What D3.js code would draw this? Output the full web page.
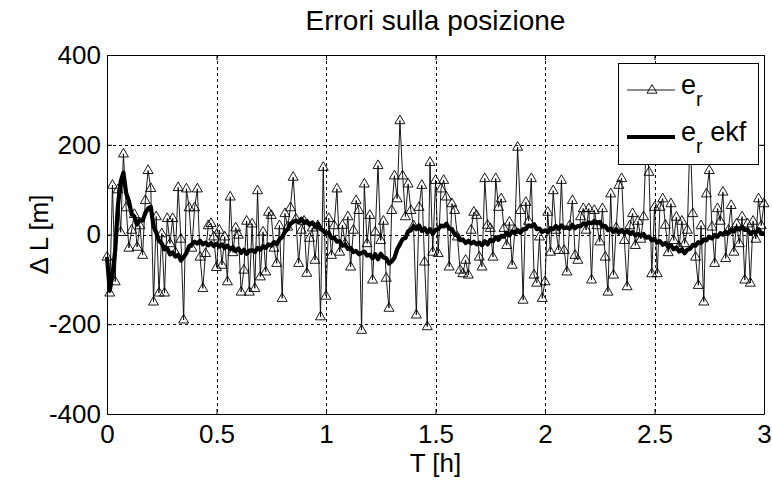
<!DOCTYPE html>
<html>
<head>
<meta charset="utf-8">
<script src="https://cdn.jsdelivr.net/npm/d3@7"></script>
<style>
  html, body { margin: 0; padding: 0; background: #fff; }
  svg { display: block; font-family: "Liberation Sans", Arial, Helvetica, sans-serif; }
</style>
</head>
<body>
<svg id="chart" width="772" height="480"></svg>
<script>
// Sampling grid: one sample every 0.0125 h over 3 hours
const sampleStep = 0.0125;

// Raw position error e_r [m]
const errRaw = [
  -50, -130, 110, -105, 100, 5, 180, 60, -30, 10, 45, -28, 20, -46, 76, 143,
  103, -150, 40, -130, 2, -130, 36, -20, 36, -40, 105, -10, -190, 102, 60, -30,
  60, 102, -50, -120, -42, 20, 25, -5, -73,
  10, -68, -5, -105, 84, -40, 15, -1, -128, -79, 30, -128, 24, -120, 98, -94,
  6, -83, 50, 43, -30, -64, 20, -142, 47, 17, 60, 128, 35, -64, 10, 30,
  -86, -8, 15, -57, 20, -183, 150, -137,
  36, -46, 20, 102, -39, 21, -20, 40, -72, 10, 76, 54, -213, 113, -20, 43,
  -101, 6, 154, -13, 30, -97, -164, 54, 131, 80, 254, 131, 40, 113, 54, 20,
  -179, 61, 110, -61, -205, 161, -39, 121,
  -42, 102, 121, 84, -72, 69, 54, -5, -79, -87, -57, -90, 10, 50, 43, -50,
  -72, 125, 21, 14, -50, 125, 61, 80, 14, -24, 28, -68, 10, 195, 54, -146,
  72, 30, 125, -90, -108, -5, -142, -105,
  50, -39, 98, 10, -35, 121, -35, -83, 20, 76, -46, -57, 40, 58, 10, 58,
  -101, 54, 20, -16, 58, -50, -128, 91, -90, 15, 110, 125, -13, -116, 20, 47,
  -24, 30, -10, 40, 210, 139, -87, 61,
  -87, 61, 80, 21, -40, 69, -13, 39, -27, 30, -20, 10, 230, 47, -50, -113,
  20, -150, 91, 143, 17, -64, 58, 30, 95, -53, 10, 65, -39, 24, -20, 40,
  -101, 24, -108, 30, -10, 80, 20, 69
];

// EKF-filtered position error e_r ekf [m]
const errEkf = [
  -50, -125, -90, -35, 65, 118, 138, 92, 74, 46, 40, 22, 33, 31, 48, 58,
  62, 18, 4, -14, -20, -33, -31, -44, -40, -49, -45, -58, -50, -42, -26, -22,
  -16, -20, -14, -22, -18, -24, -19, -26, -21,
  -27, -22, -30, -25, -33, -28, -37, -31, -41, -34, -43, -36, -35, -39, -30, -34,
  -26, -30, -22, -25, -17, -21, -11, -6, 6, 12, 24, 28, 31, 27, 35, 26,
  30, 22, 27, 18, 24, 12, 9, 2,
  4, -8, -7, -16, -15, -25, -22, -32, -30, -39, -37, -44, -41, -38, -47, -45,
  -53, -44, -55, -43, -51, -53, -65, -60, -52, -33, -22, -10, -8, 7, 9, 19,
  12, 20, 8, 14, 4, 12, 2, 10,
  12, 20, 18, 24, 13, 12, 0, -2, -13, -11, -19, -14, -20, -16, -22, -18,
  -24, -15, -22, -12, -15, -6, -12, -3, -5, 4, -2, 7, 3, 10, 4, 12,
  12, 20, 18, 23, 12, 13, 6, 9,
  5, 14, 12, 19, 12, 20, 14, 16, 13, 21, 14, 19, 18, 25, 22, 27,
  25, 30, 25, 28, 18, 19, 10, 13, 6, 12, 4, 10, 3, 8, 2, 5,
  -2, 1, -3, 1, -7, -5, -13, -10,
  -18, -15, -23, -19, -28, -24, -33, -29, -38, -33, -42, -34, -32, -23, -25, -17,
  -19, -11, -13, -5, -9, -1, -5, 3, 0, 6, 2, 11, 7, 15, 11, 17,
  10, 11, 2, 6, 3, 12, 2, 3
];

const xTicks = [0, 0.5, 1, 1.5, 2, 2.5, 3];
const yTicks = [-400, -200, 0, 200, 400];

const titleText = "Errori sulla posizione";
const xLabelText = "T [h]";
const yLabelText = "\u0394 L [m]";

const seriesRaw = errRaw.map((v, i) => ({ t: i * sampleStep, v }));
const seriesEkf = errEkf.map((v, i) => ({ t: i * sampleStep, v }));

const svg = d3.select("#chart");
const margin = { left: 107, right: 8, top: 55, bottom: 66 };
const W = 772, H = 480;
const plotW = W - margin.left - margin.right;
const plotH = H - margin.top - margin.bottom;

const x = d3.scaleLinear().domain([0, 3]).range([margin.left, margin.left + plotW]);
const y = d3.scaleLinear().domain([-400, 400]).range([margin.top + plotH, margin.top]);

const fontSize = 26;
const fmt = d => String(d);

// dotted grid on interior ticks
const grid = svg.append("g").attr("stroke", "#000").attr("stroke-width", 1)
  .attr("stroke-dasharray", "3,3");
grid.selectAll(".gx").data(xTicks.slice(1, -1)).join("line")
  .attr("x1", d => Math.round(x(d)) + 0.5).attr("x2", d => Math.round(x(d)) + 0.5)
  .attr("y1", y(400)).attr("y2", y(-400));
grid.selectAll(".gy").data(yTicks.slice(1, -1)).join("line")
  .attr("y1", d => Math.round(y(d)) + 0.5).attr("y2", d => Math.round(y(d)) + 0.5)
  .attr("x1", x(0)).attr("x2", x(3));

// data: raw error with triangle markers
const lineGen = d3.line().x(d => x(d.t)).y(d => y(d.v));
svg.append("path").datum(seriesRaw)
  .attr("d", lineGen).attr("fill", "none")
  .attr("stroke", "#000").attr("stroke-width", 0.9);

const tri = "M0,-5.5L5,3.2L-5,3.2Z";
svg.append("g").selectAll("path").data(seriesRaw).join("path")
  .attr("transform", d => `translate(${x(d.t)},${y(d.v)})`)
  .attr("d", tri).attr("fill", "none").attr("stroke", "#000").attr("stroke-width", 0.9);

// EKF estimate, thick line
svg.append("path").datum(seriesEkf)
  .attr("d", lineGen).attr("fill", "none")
  .attr("stroke", "#000").attr("stroke-width", 4.2).attr("stroke-linejoin", "round");

// axes with inward ticks on all four sides
function styleAxis(g) {
  g.selectAll(".domain").attr("stroke", "#000").attr("stroke-width", 1);
  g.selectAll(".tick line").attr("stroke", "#000");
  g.selectAll("text").attr("fill", "#000").style("font-size", fontSize + "px")
    .style("font-family", '"Liberation Sans", Arial, sans-serif');
}
svg.append("g").attr("transform", `translate(0,${y(-400)})`)
  .call(d3.axisBottom(x).tickValues(xTicks).tickFormat(fmt).tickSize(-5).tickSizeOuter(0).tickPadding(11))
  .call(styleAxis);
svg.append("g").attr("transform", `translate(0,${y(400)})`)
  .call(d3.axisTop(x).tickValues(xTicks).tickFormat("").tickSize(-5).tickSizeOuter(0))
  .call(styleAxis);
svg.append("g").attr("transform", `translate(${x(0)},0)`)
  .call(d3.axisLeft(y).tickValues(yTicks).tickFormat(fmt).tickSize(-5).tickSizeOuter(0).tickPadding(6))
  .call(styleAxis);
svg.append("g").attr("transform", `translate(${x(3)},0)`)
  .call(d3.axisRight(y).tickValues(yTicks).tickFormat("").tickSize(-5).tickSizeOuter(0))
  .call(styleAxis);

// titles
svg.append("text").attr("x", x(1.5)).attr("y", 30).attr("text-anchor", "middle")
  .style("font-size", "28px").text(titleText);
svg.append("text").attr("x", x(1.5)).attr("y", 472).attr("text-anchor", "middle")
  .style("font-size", fontSize + "px").text(xLabelText);
svg.append("text").attr("transform", `translate(48,${y(0)}) rotate(-90)`)
  .attr("text-anchor", "middle").style("font-size", fontSize + "px").text(yLabelText);

// legend
const lg = svg.append("g");
lg.append("rect").attr("x", 618.5).attr("y", 63.5).attr("width", 140).attr("height", 101)
  .attr("fill", "#fff").attr("stroke", "#000").attr("stroke-width", 1);
lg.append("line").attr("x1", 627).attr("x2", 675).attr("y1", 90).attr("y2", 90)
  .attr("stroke", "#000").attr("stroke-width", 0.9);
lg.append("path").attr("transform", "translate(652,90)").attr("d", tri)
  .attr("fill", "none").attr("stroke", "#000").attr("stroke-width", 0.9);
lg.append("line").attr("x1", 627).attr("x2", 675).attr("y1", 137).attr("y2", 137)
  .attr("stroke", "#000").attr("stroke-width", 4.2);

function legendLabel(yBase, rest) {
  const t = lg.append("text").attr("x", 681).attr("y", yBase).style("font-size", "27px");
  t.append("tspan").text("e");
  t.append("tspan").attr("dy", 12).style("font-size", "20px").text("r");
  if (rest) t.append("tspan").attr("dy", -12).text(" " + rest);
}
legendLabel(94, null);
legendLabel(141, "ekf");
</script>
</body>
</html>
